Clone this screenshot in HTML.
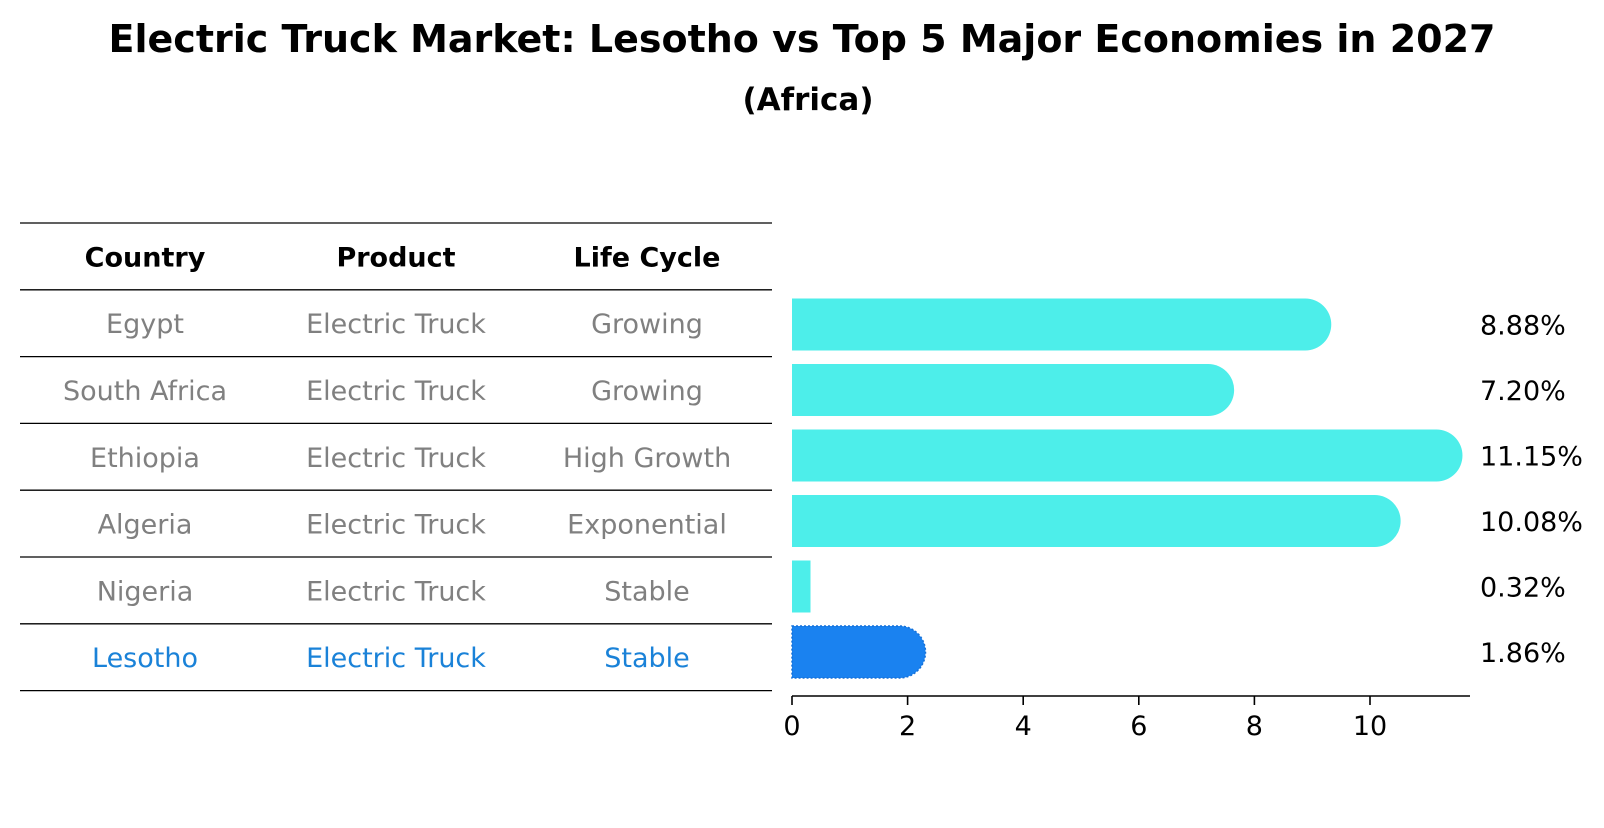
<!DOCTYPE html>
<html><head><meta charset="utf-8"><style>
body{margin:0;background:#fff;font-family:"Liberation Sans","DejaVu Sans",sans-serif;}
</style></head><body>
<svg id="c" width="1604" height="823" xmlns="http://www.w3.org/2000/svg" font-family="DejaVu Sans, Liberation Sans, sans-serif">
<text x="802" y="52" text-anchor="middle" font-size="38" font-weight="bold">Electric Truck Market: Lesotho vs Top 5 Major Economies in 2027</text>
<text x="808" y="110" text-anchor="middle" font-size="31" font-weight="bold">(Africa)</text>
<g id="table"></g>
<g id="bars"></g>
<g id="axis"></g>
</svg>
<script>
const countries=["Egypt","South Africa","Ethiopia","Algeria","Nigeria","Lesotho"];
const products=["Electric Truck","Electric Truck","Electric Truck","Electric Truck","Electric Truck","Electric Truck"];
const lifeCycles=["Growing","Growing","High Growth","Exponential","Stable","Stable"];
const values=[8.88,7.20,11.15,10.08,0.32,1.86];
const valueLabels=["8.88%","7.20%","11.15%","10.08%","0.32%","1.86%"];
const ticks=[0,2,4,6,8,10];
const NS="http://www.w3.org/2000/svg";
const x0=792, ppu=57.8;
const X=v=>x0+v*ppu;
const tTop=223, rowH=66.8;
const rowY=i=>tTop+rowH*(i+1.5);
const barY=i=>324.5+i*65.5;
function mk(t,a,p,txt){const e=document.createElementNS(NS,t);for(const k in a)e.setAttribute(k,a[k]);if(txt!==undefined)e.textContent=txt;p.appendChild(e);return e;}
const tb=document.getElementById('table');
for(let k=0;k<8;k++){const y=tTop+k*rowH;const l=mk('line',{x1:20,x2:772,y1:y,y2:y,stroke:'#000','stroke-width':1.3},tb);

}
const cx=[145,396,647];
["Country","Product","Life Cycle"].forEach((h,j)=>{const t=mk('text',{x:cx[j],y:tTop+rowH*0.5+10,'text-anchor':'middle','font-size':27,'font-weight':'bold'},tb,h);

});
countries.forEach((c,i)=>{
  const col=i===5?'#1a82d8':'#808080';
  [c,products[i],lifeCycles[i]].forEach((s,j)=>{
    const t=mk('text',{x:cx[j],y:rowY(i)+10,'text-anchor':'middle','font-size':27,fill:col},tb,s);
    
    
  });
});
const bg=document.getElementById('bars');
const h=52,r=26;
values.forEach((v,i)=>{
  const yc=barY(i), w=X(v)-x0, col=i===5?'#1a82f0':'#4deeea';
  let e;
  if(w>2*r){
    const xe=x0+w;
    e=mk('path',{d:`M${x0},${yc-r}H${xe}A${r},${r} 0 0 1 ${xe},${yc+r}H${x0}Z`,fill:col},bg);
  } else {
    e=mk('rect',{x:x0,y:yc-r,width:w,height:h,fill:col},bg);
  }
  if(i===5){e.setAttribute('stroke','#1570d8');e.setAttribute('stroke-width','1.5');e.setAttribute('stroke-dasharray','2,2');}
  
  
  const t=mk('text',{x:1480,y:yc+10,'font-size':27},bg,valueLabels[i]);
  
  
});
const ax=document.getElementById('axis');
mk('line',{x1:x0,x2:1470,y1:696,y2:696,stroke:'#000','stroke-width':1.6},ax);
ticks.forEach(tk=>{
  const l=mk('line',{x1:X(tk),x2:X(tk),y1:696,y2:705,stroke:'#000','stroke-width':1.6},ax);
  
  
  const t=mk('text',{x:X(tk),y:735,'text-anchor':'middle','font-size':27},ax,String(tk));
  
  
});
</script>
</body></html>
